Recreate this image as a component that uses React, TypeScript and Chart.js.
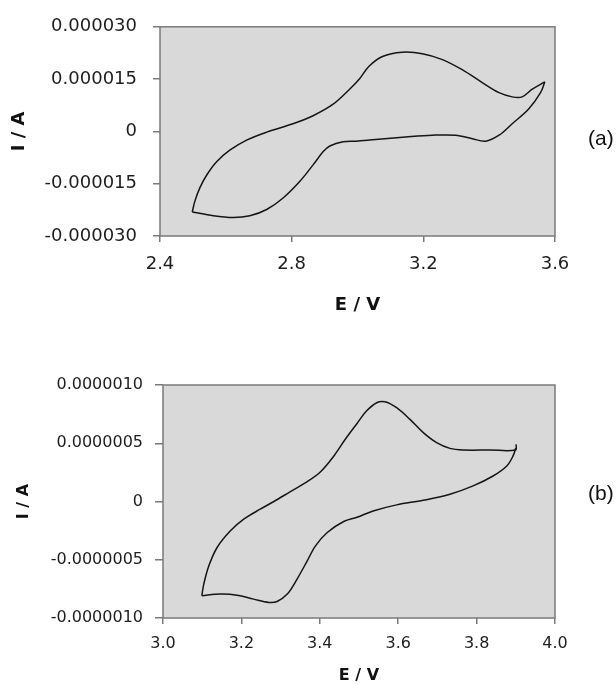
import React, { useEffect, useRef } from "react";
import { Chart, registerables } from "chart.js";

Chart.register(...registerables);

// ---------- Chart (a) ----------
const eForwardA = [2.498, 2.506, 2.521, 2.542, 2.572, 2.612, 2.663, 2.724, 2.804, 2.865, 2.926, 2.976, 3.007, 3.035, 3.076, 3.136, 3.197, 3.258, 3.318, 3.379, 3.43, 3.47, 3.5, 3.531, 3.569];
const iForwardA = [-23.1e-6, -20.0e-6, -16.2e-6, -12.5e-6, -8.7e-6, -5.4e-6, -2.5e-6, -0.2e-6, 2.2e-6, 4.5e-6, 7.8e-6, 12.1e-6, 15.2e-6, 18.7e-6, 21.5e-6, 22.7e-6, 22.3e-6, 20.6e-6, 17.7e-6, 14.0e-6, 11.1e-6, 9.9e-6, 9.9e-6, 12.1e-6, 14.2e-6];
const eReverseA = [3.569, 3.556, 3.52, 3.47, 3.43, 3.389, 3.349, 3.298, 3.227, 3.146, 3.055, 2.995, 2.956, 2.916, 2.896, 2.865, 2.825, 2.774, 2.724, 2.673, 2.622, 2.562, 2.498];
const iReverseA = [14.2e-6, 11.1e-6, 6.4e-6, 2.2e-6, -1.1e-6, -2.8e-6, -2.1e-6, -1.1e-6, -1.1e-6, -1.6e-6, -2.3e-6, -2.8e-6, -3.0e-6, -4.2e-6, -5.8e-6, -9.6e-6, -14.3e-6, -19.1e-6, -22.4e-6, -24.2e-6, -24.7e-6, -24.2e-6, -23.1e-6];
const xTicksA = [2.4, 2.8, 3.2, 3.6];
const xTickLabelsA = ["2.4", "2.8", "3.2", "3.6"];
const yTicksA = [-0.00003, -0.000015, 0, 0.000015, 0.00003];
const yTickLabelsA = ["-0.000030", "-0.000015", "0", "0.000015", "0.000030"];

// ---------- Chart (b) ----------
const eForwardB = [3.099, 3.104, 3.117, 3.138, 3.172, 3.206, 3.248, 3.283, 3.325, 3.368, 3.402, 3.436, 3.465, 3.495, 3.519, 3.545, 3.566, 3.596, 3.63, 3.664, 3.698, 3.732, 3.766, 3.834, 3.899, 3.901];
const iForwardB = [-0.809e-6, -0.709e-6, -0.552e-6, -0.395e-6, -0.252e-6, -0.152e-6, -0.066e-6, 0.0, 0.085e-6, 0.171e-6, 0.256e-6, 0.391e-6, 0.534e-6, 0.67e-6, 0.776e-6, 0.848e-6, 0.856e-6, 0.805e-6, 0.705e-6, 0.591e-6, 0.505e-6, 0.456e-6, 0.442e-6, 0.442e-6, 0.442e-6, 0.49e-6];
const eReverseB = [3.9, 3.893, 3.877, 3.842, 3.791, 3.732, 3.664, 3.596, 3.536, 3.495, 3.461, 3.419, 3.389, 3.368, 3.342, 3.317, 3.291, 3.27, 3.231, 3.189, 3.146, 3.099];
const iReverseB = [0.46e-6, 0.391e-6, 0.305e-6, 0.219e-6, 0.134e-6, 0.062e-6, 0.011e-6, -0.029e-6, -0.081e-6, -0.135e-6, -0.172e-6, -0.266e-6, -0.381e-6, -0.509e-6, -0.666e-6, -0.795e-6, -0.858e-6, -0.866e-6, -0.838e-6, -0.804e-6, -0.795e-6, -0.809e-6];
const xTicksB = [3.0, 3.2, 3.4, 3.6, 3.8, 4.0];
const xTickLabelsB = ["3.0", "3.2", "3.4", "3.6", "3.8", "4.0"];
const yTicksB = [-0.000001, -0.0000005, 0, 0.0000005, 0.000001];
const yTickLabelsB = ["-0.0000010", "-0.0000005", "0", "0.0000005", "0.0000010"];

const xTitle = "E / V";
const yTitle = "I / A";

const FONT = "'DejaVu Sans', Verdana, sans-serif";

const framePlugin = {
  id: "plotFrame",
  beforeDraw(chart: any) {
    const { ctx, chartArea: a } = chart;
    ctx.save();
    ctx.fillStyle = "#d9d9d9";
    ctx.fillRect(a.left, a.top, a.right - a.left, a.bottom - a.top);
    ctx.restore();
  },
  afterDraw(chart: any) {
    const { ctx, chartArea: a } = chart;
    ctx.save();
    ctx.strokeStyle = "#7a7a7a";
    ctx.lineWidth = 1.5;
    ctx.strokeRect(a.left, a.top, a.right - a.left, a.bottom - a.top);
    ctx.restore();
  },
};

type Spec = {
  eF: number[]; iF: number[]; eR: number[]; iR: number[];
  xTicks: number[]; xLabels: string[]; yTicks: number[]; yLabels: string[];
  xMin: number; xMax: number; yMin: number; yMax: number;
  padTop: number; padRight: number; yWidth: number; xHeight: number;
  tickFont: number; titleFont: number;
  yTickLen: number; yTickPad: number; xTickLen: number; xTickPad: number;
  yTitlePad: number; xTitlePad: number;
};

function makeConfig(s: Spec): any {
  const toPts = (e: number[], i: number[]) => e.map((x, k) => ({ x, y: i[k] }));
  const line = {
    showLine: true,
    borderColor: "#151515",
    borderWidth: 1.5,
    pointRadius: 0,
    pointHoverRadius: 0,
    tension: 0.35,
    fill: false,
  };
  return {
    type: "scatter",
    data: {
      datasets: [
        { ...line, data: toPts(s.eF, s.iF) },
        { ...line, data: toPts(s.eR, s.iR) },
      ],
    },
    options: {
      animation: false,
      responsive: false,
      devicePixelRatio: 1,
      layout: { padding: { left: 0, top: s.padTop, right: s.padRight, bottom: 0 } },
      plugins: { legend: { display: false }, tooltip: { enabled: false } },
      scales: {
        x: {
          type: "linear",
          min: s.xMin,
          max: s.xMax,
          afterBuildTicks: (sc: any) => { sc.ticks = s.xTicks.map((v) => ({ value: v })); },
          afterFit: (sc: any) => { sc.height = s.xHeight; },
          ticks: {
            autoSkip: false,
            maxRotation: 0,
            padding: s.xTickPad,
            color: "#1e1e1e",
            font: { family: FONT, size: s.tickFont },
            callback: (_v: any, idx: number) => s.xLabels[idx],
          },
          grid: { drawOnChartArea: false, drawTicks: true, tickLength: s.xTickLen, color: "#7a7a7a", lineWidth: 1.5 },
          border: { display: false },
          title: {
            display: true,
            text: xTitle,
            color: "#111",
            font: { family: FONT, size: s.titleFont, weight: "bold", lineHeight: 1 },
            padding: { top: 0, bottom: s.xTitlePad },
          },
        },
        y: {
          type: "linear",
          min: s.yMin,
          max: s.yMax,
          afterBuildTicks: (sc: any) => { sc.ticks = s.yTicks.map((v) => ({ value: v })); },
          afterFit: (sc: any) => { sc.width = s.yWidth; },
          ticks: {
            autoSkip: false,
            padding: s.yTickPad,
            color: "#1e1e1e",
            font: { family: FONT, size: s.tickFont },
            callback: (_v: any, idx: number) => s.yLabels[idx],
          },
          grid: { drawOnChartArea: false, drawTicks: true, tickLength: s.yTickLen, color: "#7a7a7a", lineWidth: 1.5 },
          border: { display: false },
          title: {
            display: true,
            text: yTitle,
            color: "#111",
            font: { family: FONT, size: s.titleFont, weight: "bold", lineHeight: 1 },
            padding: { top: s.yTitlePad, bottom: 0 },
          },
        },
      },
    },
    plugins: [framePlugin],
  };
}

const specA: Spec = {
  eF: eForwardA, iF: iForwardA, eR: eReverseA, iR: iReverseA,
  xTicks: xTicksA, xLabels: xTickLabelsA, yTicks: yTicksA, yLabels: yTickLabelsA,
  xMin: 2.4, xMax: 3.6, yMin: -0.00003, yMax: 0.00003,
  padTop: 24, padRight: 61, yWidth: 160, xHeight: 94,
  tickFont: 18, titleFont: 18,
  yTickLen: 7, yTickPad: 16, xTickLen: 6, xTickPad: 12,
  yTitlePad: 10, xTitlePad: 16,
};

const specB: Spec = {
  eF: eForwardB, iF: iForwardB, eR: eReverseB, iR: iReverseB,
  xTicks: xTicksB, xLabels: xTickLabelsB, yTicks: yTicksB, yLabels: yTickLabelsB,
  xMin: 3.0, xMax: 4.0, yMin: -0.000001, yMax: 0.000001,
  padTop: 45, padRight: 61, yWidth: 163, xHeight: 66,
  tickFont: 16, titleFont: 16,
  yTickLen: 8, yTickPad: 12, xTickLen: 6, xTickPad: 10,
  yTitlePad: 16, xTitlePad: 0,
};

function CVChart({ spec, width, height }: { spec: Spec; width: number; height: number }) {
  const ref = useRef<HTMLCanvasElement | null>(null);
  useEffect(() => {
    if (!ref.current) return;
    const chart = new Chart(ref.current, makeConfig(spec));
    return () => chart.destroy();
  }, [spec]);
  return <canvas ref={ref} width={width} height={height} style={{ display: "block", width, height }} />;
}

const panelLabel: React.CSSProperties = {
  position: "absolute",
  left: 588,
  fontFamily: "'Liberation Sans', Arial, sans-serif",
  fontSize: 21,
  lineHeight: 1,
  color: "#111",
  whiteSpace: "nowrap",
};

export default function App() {
  return (
    <div style={{ position: "absolute", left: 0, top: 0, width: 616, height: 684, overflow: "hidden", background: "#fff" }}>
      <div style={{ position: "absolute", left: 0, top: 0 }}>
        <CVChart spec={specA} width={616} height={330} />
      </div>
      <div style={{ position: "absolute", left: 0, top: 340 }}>
        <CVChart spec={specB} width={616} height={344} />
      </div>
      <div style={{ ...panelLabel, top: 127 }}>(a)</div>
      <div style={{ ...panelLabel, top: 482 }}>(b)</div>
    </div>
  );
}
